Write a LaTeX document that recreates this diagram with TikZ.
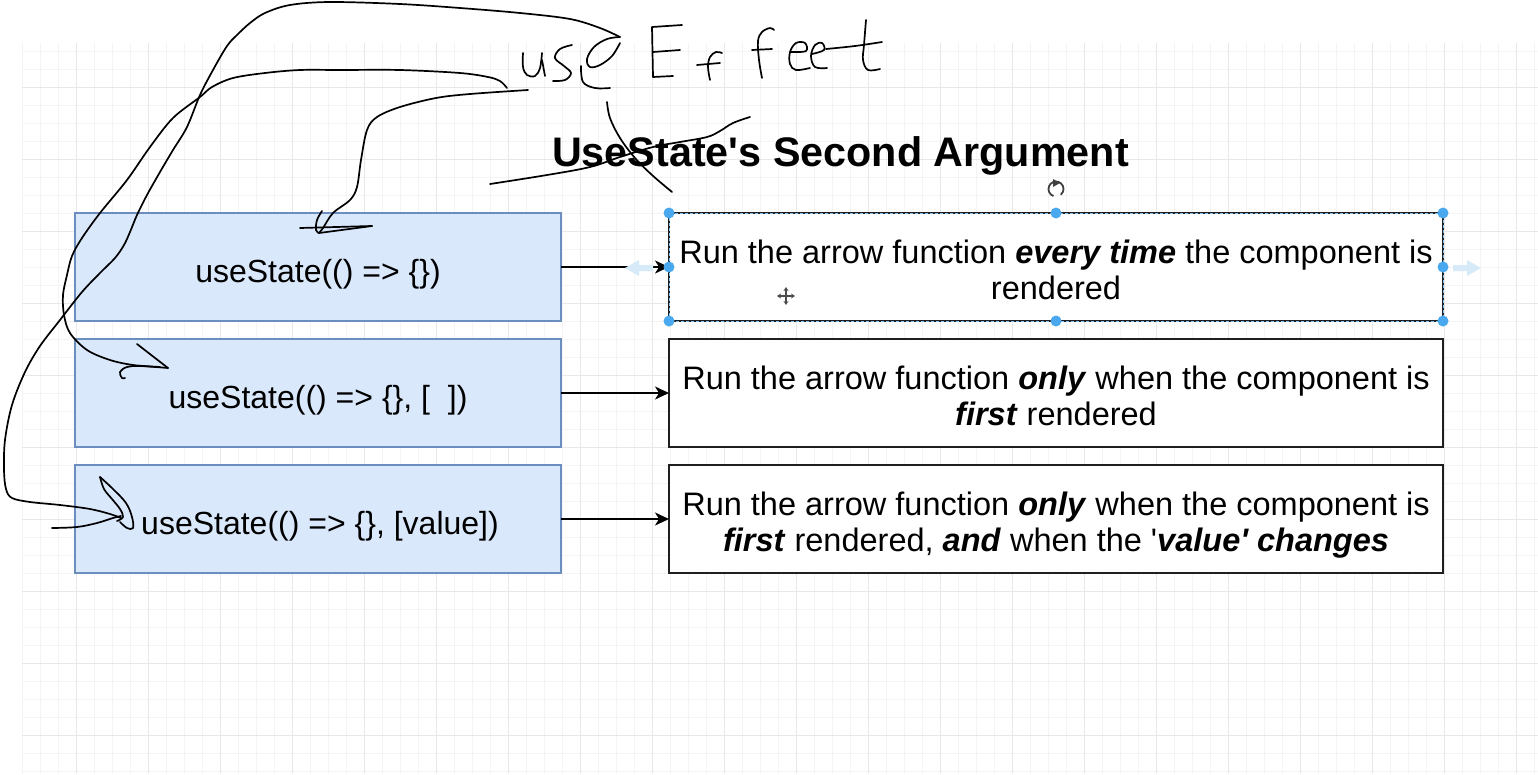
\documentclass[tikz,border=0pt]{standalone}
\usepackage{fontspec}
\setmainfont{Liberation Sans}
\usetikzlibrary{arrows.meta}
\definecolor{bluefill}{HTML}{DAE8FC}
\definecolor{blueline}{HTML}{6C8EBF}
\definecolor{gridminor}{HTML}{F4F4F4}
\definecolor{gridmajor}{HTML}{E8E8E8}
\definecolor{handle}{HTML}{4AA8EE}
\definecolor{hoverblue}{HTML}{D6EAF8}
\newcommand\bfit[1]{\textbf{\textit{#1}}}
\tikzset{
  leftbox/.style={draw=blueline, fill=bluefill, line width=1.6pt, minimum width=486pt, minimum height=108pt, inner sep=0pt, outer sep=0pt},
  rightbox/.style={draw=black!88, fill=white, line width=1.8pt, minimum width=774pt, minimum height=108pt, inner sep=0pt, outer sep=0pt},
  lbl/.style={font=\fontsize{32}{36}\selectfont, anchor=base, inner sep=0pt},
  rlbl/.style={font=\fontsize{32.5}{36}\selectfont, anchor=base, inner sep=0pt},
  conn/.style={line width=1.5pt, black, -{Stealth[length=14pt,width=13pt,inset=4pt]}},
  hand/.style={line width=1.7pt, black, line cap=round, line join=round},
  knob/.style={fill=handle},
}
\begin{document}
\begin{tikzpicture}[x=1pt,y=-1pt]
\fill[white] (0,0) rectangle (1538,774);
\useasboundingbox (0,0) rectangle (1538,774);
% grid
\foreach \x in {22,40,...,1538} \draw[gridminor, line width=1pt] (\x,43) -- (\x,774);
\foreach \y in {51,69,...,774} \draw[gridminor, line width=1pt] (22,\y) -- (1538,\y);
\foreach \x in {76,148,...,1538} \draw[gridmajor, line width=1pt] (\x,43) -- (\x,774);
\foreach \y in {87,159,...,774} \draw[gridmajor, line width=1pt] (22,\y) -- (1538,\y);

% title
\node[font=\bfseries\fontsize{41.3}{49}\selectfont, anchor=base, inner sep=0pt] (title) at (840.5,166) {UseState\textquotesingle s Second Argument};

% boxes
\node[leftbox] (l1) at (318,267) {};
\node[leftbox] (l2) at (318,393) {};
\node[leftbox] (l3) at (318,519) {};
\node[rightbox] (r1) at (1056,267) {};
\node[rightbox] (r2) at (1056,393) {};
\node[rightbox] (r3) at (1056,519) {};

\node[lbl] (l1t) at ([yshift=-15pt]l1.center) {useState(() => \{\})};
\node[lbl] (l2t) at ([yshift=-15pt]l2.center) {useState(() => \{\}, [\ \ ])};
\node[lbl] (l3t) at ([yshift=-15pt,xshift=2pt]l3.center) {useState(() => \{\}, [value])};

\node[rlbl] (r1a) at ([yshift=4pt]r1.center) {Run the arrow function \bfit{every time} the component is};
\node[rlbl] (r1b) at ([yshift=-32pt]r1.center) {rendered};
\node[rlbl] (r2a) at ([yshift=4pt]r2.center) {Run the arrow function \bfit{only} when the component is};
\node[rlbl] (r2b) at ([yshift=-32pt]r2.center) {\bfit{first} rendered};
\node[rlbl] (r3a) at ([yshift=4pt]r3.center) {Run the arrow function \bfit{only} when the component is};
\node[rlbl] (r3b) at ([yshift=-32pt]r3.center) {\bfit{first} rendered, \bfit{and} when the \textquotesingle\bfit{value\textquotesingle{} changes}};

% connectors
\draw[conn] (l1) -- (r1);
\draw[conn] (l2) -- (r2);
\draw[conn] (l3) -- (r3);

% selection decoration on r1
\draw[handle!70, line width=0.8pt, dash pattern=on 3pt off 2pt] (r1.north west) rectangle (r1.south east);
\foreach \a in {north west,north,north east,west,east,south west,south,south east}
  \fill[knob] (r1.\a) circle (5.5);
% hover arrows
\fill[hoverblue] (1453,265) -- (1467,265) -- (1467,260) -- (1481,268) -- (1467,276) -- (1467,271) -- (1453,271) -- cycle;
\fill[hoverblue] (653,265) -- (639,265) -- (639,260) -- (625,268) -- (639,276) -- (639,271) -- (653,271) -- cycle;
% rotate icon
\draw[black!75, line width=1.8pt] (1056,189) ++(110:7.5) arc (110:410:7.5);
\fill[black!75] (1053,179) -- (1060,183) -- (1053,187) -- cycle;
% move icon
\draw[black!70, line width=1.6pt, {Stealth[length=4pt,width=5pt]}-{Stealth[length=4pt,width=5pt]}] (777,296) -- (795,296);
\draw[black!70, line width=1.6pt, {Stealth[length=4pt,width=5pt]}-{Stealth[length=4pt,width=5pt]}] (786,287) -- (786,305);

% handwriting: "useEffect"
\draw[hand] plot[smooth, tension=0.6] coordinates {(523,53) (523,67) (527,75) (535,76) (540,68) (542,53)};
\draw[hand] (542,60) -- (545,76);
\draw[hand] plot[smooth, tension=0.6] coordinates {(572,45) (560,49) (555,58) (564,66) (571,73) (565,80) (553,81)};
\draw[hand] plot[smooth, tension=0.6] coordinates {(620,37) (607,39) (594,47) (587,59) (590,67) (600,65) (612,56) (620,43)};
\draw[hand] plot[smooth, tension=0.6] coordinates {(581,66) (583,82) (595,88) (610,88)};
\draw[hand] (682,25) -- (652,27) -- (653,77) -- (673,76);
\draw[hand] (653,52) -- (680,50);
\draw[hand] plot[smooth, tension=0.6] coordinates {(710,80) (708,67) (710,57) (716,52) (722,53)};
\draw[hand] (697,65) -- (720,63);
\draw[hand] plot[smooth, tension=0.6] coordinates {(762,78) (759,60) (758,41) (762,32) (770,28) (774,30)};
\draw[hand] (752,50) -- (772,49);
\draw[hand] plot[smooth, tension=0.6] coordinates {(791,52) (806,51) (805,43) (796,43) (790,52) (790,64) (796,70) (810,68)};
\draw[hand] plot[smooth, tension=0.6] coordinates {(812,54) (824,50) (822,43) (815,45) (811,56) (815,67) (827,68)};
\draw[hand] plot[smooth, tension=0.6] coordinates {(826,49) (855,46) (882,42)};
\draw[hand] plot[smooth, tension=0.6] coordinates {(866,20) (864,45) (863,60) (868,70) (880,69)};
% strike-through of "Use"
\draw[hand] plot[smooth, tension=0.6] coordinates {(607,102) (610,118) (620,138) (635,158) (652,175) (672,192)};
\draw[hand] plot[smooth, tension=0.6] coordinates {(490,184) (547,175) (590,167) (620,157) (653,147) (680,142) (707,137) (720,131) (733,123) (750,117)};

% stroke A (to third box)
\draw[hand] plot[smooth, tension=0.55] coordinates {(620,37) (600,28) (570,19) (520,13) (460,8) (400,4) (330,2) (290,5) (265,13) (250,23) (237,35) (227,46) (213,70) (200,95) (187,127) (173,150) (160,172) (147,195) (137,215) (130,232) (124,245) (115,258) (100,273) (82,292) (60,320) (40,346) (25,372) (12,405) (5,440) (4,470) (6,489) (12,498) (30,502) (60,505) (90,509) (110,514) (121,518)};
\draw[hand] plot[smooth, tension=0.6] coordinates {(100,477) (113,489) (126,503) (132,517) (133,528) (127,528) (120,522)};
\draw[hand] plot[smooth, tension=0.6] coordinates {(100,477) (104,489) (112,499) (120,509) (123,517) (117,521)};
\draw[hand] plot[smooth, tension=0.6] coordinates {(52,528) (77,527) (97,523) (113,518) (121,516)};

% stroke B (to second box)
\draw[hand] plot[smooth, tension=0.55] coordinates {(507,88) (500,81) (488,77) (460,73) (400,70) (340,70) (300,70) (265,73) (233,78) (212,87) (200,97) (173,118) (150,147) (127,180) (100,213) (82,238) (72,256) (67,275) (63,295) (64,315) (70,333) (87,350) (110,360) (133,365) (160,367)};
\draw[hand] (137,344) -- (168,368);
\draw[hand] plot[smooth, tension=0.6] coordinates {(168,368) (140,366) (127,367) (120,372) (122,378) (125,378)};

% stroke C (to first box)
\draw[hand] plot[smooth, tension=0.55] coordinates {(528,90) (470,94) (436,98) (400,107) (377,117) (367,130) (361,160) (357,187) (350,200) (333,213) (323,228) (319,233)};
\draw[hand] plot[smooth, tension=0.6] coordinates {(322,211) (317,220) (316,230) (319,233)};
\draw[hand] (319,233) -- (372,226);
\draw[hand] (300,228) -- (372,226);
\end{tikzpicture}
\end{document}
